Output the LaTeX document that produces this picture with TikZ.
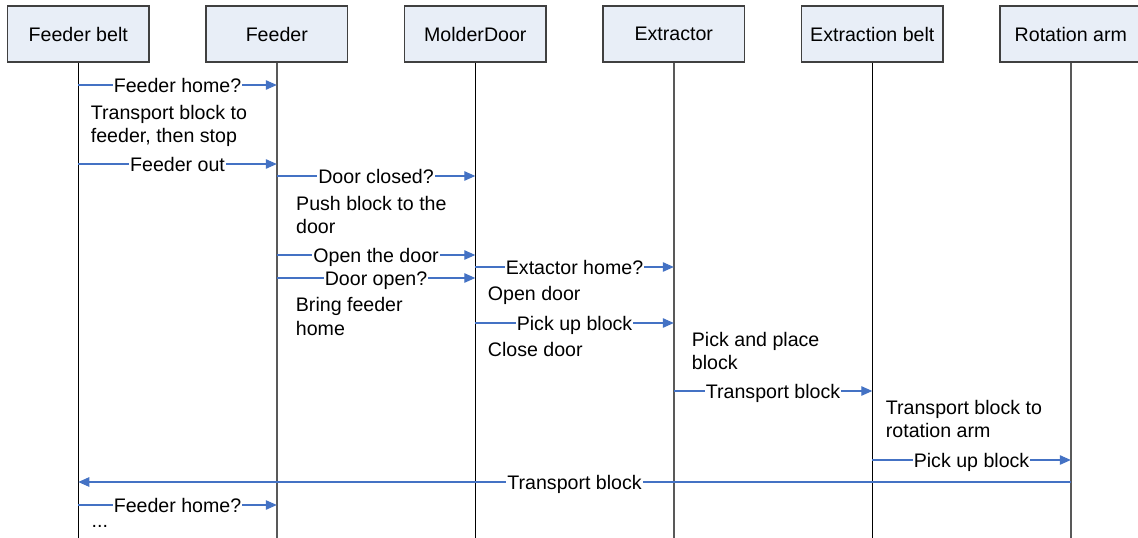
\documentclass[tikz,border=0pt]{standalone}
\usepackage{fontspec}
\setmainfont{Liberation Sans}
\usetikzlibrary{arrows.meta}
\definecolor{msgblue}{RGB}{68,114,196}
\definecolor{boxfill}{RGB}{232,238,247}
\definecolor{boxline}{RGB}{64,64,64}
\begin{document}
\begin{tikzpicture}[x=1pt,y=-1pt,
  font=\fontsize{19.6pt}{23.6pt}\selectfont,
  actor/.style={draw=boxline,line width=1.2pt,fill=boxfill,minimum width=141.5pt,minimum height=56pt,inner sep=0pt},
  lifeA/.style={draw=black,line width=1.3pt},
  lifeB/.style={draw=black!65,line width=1.5pt},
  msgline/.style={draw=msgblue,line width=1.1pt,-{Triangle[length=11pt,width=9.5pt]}},
  lbl/.style={fill=white,inner xsep=1pt,inner ysep=1pt,midway,anchor=base,yshift=-7.2pt,text=black},
  note/.style={anchor=base west,inner sep=0pt}]
\useasboundingbox (0,0) rectangle (1138,538);
% actors
\node[actor] (fb) at (78.3,34) {Feeder belt};
\node[actor] (fd) at (276.8,34) {Feeder};
\node[actor] (md) at (475.3,34) {MolderDoor};
\node[actor] (ex) at (673.8,34) {Extractor};
\node[actor] (eb) at (872.3,34) {Extraction belt};
\node[actor] (ra) at (1070.8,34) {Rotation arm};
% lifelines
\coordinate (fbend) at (fb.south |- 0,540);
\coordinate (fdend) at (fd.south |- 0,540);
\coordinate (mdend) at (md.south |- 0,540);
\coordinate (exend) at (ex.south |- 0,540);
\coordinate (ebend) at (eb.south |- 0,540);
\coordinate (raend) at (ra.south |- 0,540);
\draw[lifeA] (fb.south) -- (fbend);
\draw[lifeB] (fd.south) -- (fdend);
\draw[lifeA] (md.south) -- (mdend);
\draw[lifeB] (ex.south) -- (exend);
\draw[lifeA] (eb.south) -- (ebend);
\draw[lifeB] (ra.south) -- (raend);
% messages
\draw[msgline] (fb.south |- 0,85) -- node[lbl]{Feeder home?} (fd.south |- 0,85);
\node[note] (n1a) at (90.7,119) {Transport block to};
\node[note] (n1b) at (90.7,142.7) {feeder, then stop};
\draw[msgline] (fb.south |- 0,164) -- node[lbl]{Feeder out} (fd.south |- 0,164);
\draw[msgline] (fd.south |- 0,176) -- node[lbl]{Door closed?} (md.south |- 0,176);
\node[note] (n2a) at (296,210) {Push block to the};
\node[note] (n2b) at (296,233.6) {door};
\draw[msgline] (fd.south |- 0,255) -- node[lbl]{Open the door} (md.south |- 0,255);
\draw[msgline] (md.south |- 0,267) -- node[lbl]{Extactor home?} (ex.south |- 0,267);
\draw[msgline] (fd.south |- 0,278) -- node[lbl]{Door open?} (md.south |- 0,278);
\node[note] (n3) at (487.7,300) {Open door};
\node[note] (n4a) at (295.7,311.7) {Bring feeder};
\node[note] (n4b) at (295.7,335.3) {home};
\draw[msgline] (md.south |- 0,323) -- node[lbl]{Pick up block} (ex.south |- 0,323);
\node[note] (n5) at (487.7,356.7) {Close door};
\node[note] (n6a) at (691.7,346) {Pick and place};
\node[note] (n6b) at (691.7,369.6) {block};
\draw[msgline] (ex.south |- 0,391) -- node[lbl]{Transport block} (eb.south |- 0,391);
\node[note] (n7a) at (885.7,414) {Transport block to};
\node[note] (n7b) at (885.7,437.6) {rotation arm};
\draw[msgline] (eb.south |- 0,460) -- node[lbl]{Pick up block} (ra.south |- 0,460);
\draw[msgline] (ra.south |- 0,482) -- node[lbl]{Transport block} (fb.south |- 0,482);
\draw[msgline] (fb.south |- 0,505) -- node[lbl]{Feeder home?} (fd.south |- 0,505);
\node[note] (n8) at (91.5,527) {...};
\end{tikzpicture}
\end{document}
